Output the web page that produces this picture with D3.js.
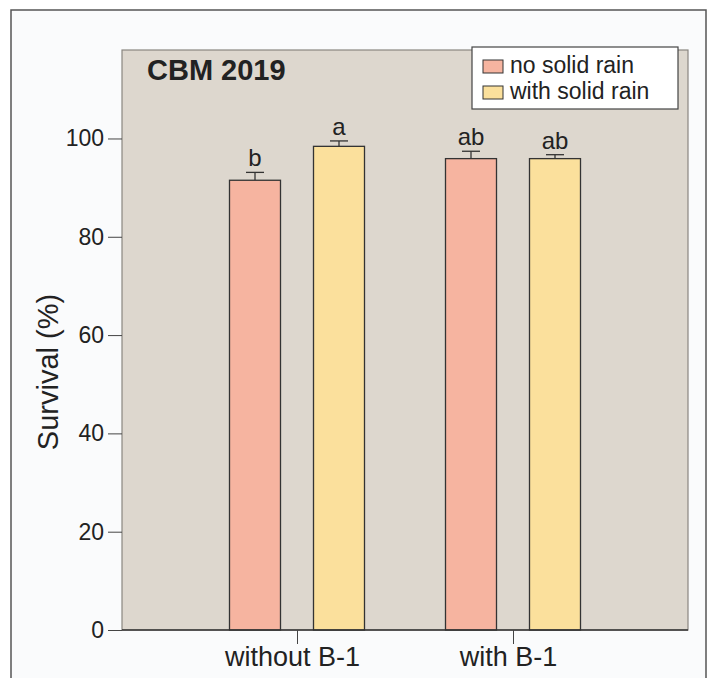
<!DOCTYPE html>
<html lang="en">
<head>
    <meta charset="UTF-8">
    <script src="https://d3js.org/d3.v7.min.js"></script>
    <title>CBM 2019</title>
    <style>
        body { margin: 0; background: #fff; }
        text { font-family: "Liberation Sans", Arial, sans-serif; fill: #222; }
    </style>
</head>
<body>
    <div id="chart"></div>
    <script>
        const width = 715;
        const height = 678;

        // Data
        const groups = ["without B-1", "with B-1"];
        const treatments = ["no solid rain", "with solid rain"];
        const values = [[91.5, 98.4], [95.9, 95.9]];
        const errors = [[1.6, 1.1], [1.5, 0.8]];
        const letters = [["b", "a"], ["ab", "ab"]];
        const yTicks = [0, 20, 40, 60, 80, 100];
        const colors = ["#f6b4a0", "#fbe09c"];

        const margin = { top: 50, right: 27, bottom: 48, left: 122 };
        const plotW = width - margin.left - margin.right;
        const plotH = height - margin.top - margin.bottom;

        const svg = d3.select("#chart")
            .append("svg")
            .attr("width", width)
            .attr("height", height);

        // outer frame
        svg.append("rect")
            .attr("x", 11).attr("y", 10)
            .attr("width", 695).attr("height", 690)
            .attr("fill", "#fafbfc")
            .attr("stroke", "#555")
            .attr("stroke-width", 1.5);

        const g = svg.append("g")
            .attr("transform", `translate(${margin.left}, ${margin.top})`);

        const yScale = d3.scaleLinear()
            .domain([0, 118])
            .range([plotH, 0]);

        const xScale = d3.scaleLinear()
            .domain([0, 1])
            .range([175, 391]);

        const barW = 51;
        const offset = 42;

        // plot background
        g.append("rect")
            .attr("width", plotW)
            .attr("height", plotH)
            .attr("fill", "#ddd7ce")
            .attr("stroke", "#8a8680")
            .attr("stroke-width", 1.2);

        // bars
        groups.forEach((grp, i) => {
            treatments.forEach((t, j) => {
                const cx = xScale(i) + (j === 0 ? -offset : offset);
                const v = values[i][j];
                const top = yScale(v + errors[i][j]);
                // error bar
                g.append("line")
                    .attr("x1", cx).attr("x2", cx)
                    .attr("y1", yScale(v)).attr("y2", top)
                    .attr("stroke", "#333").attr("stroke-width", 1.3);
                g.append("line")
                    .attr("x1", cx - 9).attr("x2", cx + 9)
                    .attr("y1", top).attr("y2", top)
                    .attr("stroke", "#333").attr("stroke-width", 1.3);
                g.append("rect")
                    .attr("x", cx - barW / 2)
                    .attr("y", yScale(v))
                    .attr("width", barW)
                    .attr("height", yScale(0) - yScale(v))
                    .attr("fill", colors[j])
                    .attr("stroke", "#333")
                    .attr("stroke-width", 1.3);
                g.append("text")
                    .attr("x", cx)
                    .attr("y", top - 6)
                    .attr("text-anchor", "middle")
                    .attr("font-size", 24)
                    .text(letters[i][j]);
            });
        });

        // y axis
        const yAxis = d3.axisLeft(yScale)
            .tickValues(yTicks)
            .tickSize(14)
            .tickPadding(4);
        const ya = g.append("g").call(yAxis);
        ya.select(".domain").remove();
        ya.selectAll(".tick line").attr("stroke", "#444");
        ya.selectAll("text").attr("font-size", 23).attr("fill", "#222");

        // x axis
        const xAxis = d3.axisBottom(xScale)
            .tickValues([0, 1])
            .tickFormat(i => groups[i])
            .tickSize(14)
            .tickPadding(3);
        const xa = g.append("g")
            .attr("transform", `translate(0, ${plotH})`)
            .call(xAxis);
        xa.select(".domain").attr("stroke", "#333").attr("stroke-width", 1.3)
            .attr("d", `M0,0H${plotW}`);
        xa.selectAll(".tick line").attr("stroke", "#444");
        xa.selectAll("text").attr("font-size", 27).attr("fill", "#222")
            .attr("dx", -5);

        // title
        g.append("text")
            .attr("x", 25)
            .attr("y", 30)
            .attr("font-size", 29)
            .attr("font-weight", "bold")
            .text("CBM 2019");

        // legend
        const lg = g.append("g").attr("transform", "translate(350, -3)");
        lg.append("rect")
            .attr("width", 206).attr("height", 62)
            .attr("fill", "#fff")
            .attr("stroke", "#444").attr("stroke-width", 1.2);
        treatments.forEach((t, j) => {
            lg.append("rect")
                .attr("x", 11).attr("y", 13 + j * 26)
                .attr("width", 20).attr("height", 13)
                .attr("fill", colors[j])
                .attr("stroke", "#333");
            lg.append("text")
                .attr("x", 38).attr("y", 26 + j * 26)
                .attr("font-size", 23)
                .text(t);
        });

        // y label
        svg.append("text")
            .attr("transform", "rotate(-90)")
            .attr("x", -372)
            .attr("y", 58)
            .attr("text-anchor", "middle")
            .attr("font-size", 29)
            .attr("fill", "#333")
            .text("Survival (%)");
    </script>
</body>
</html>
